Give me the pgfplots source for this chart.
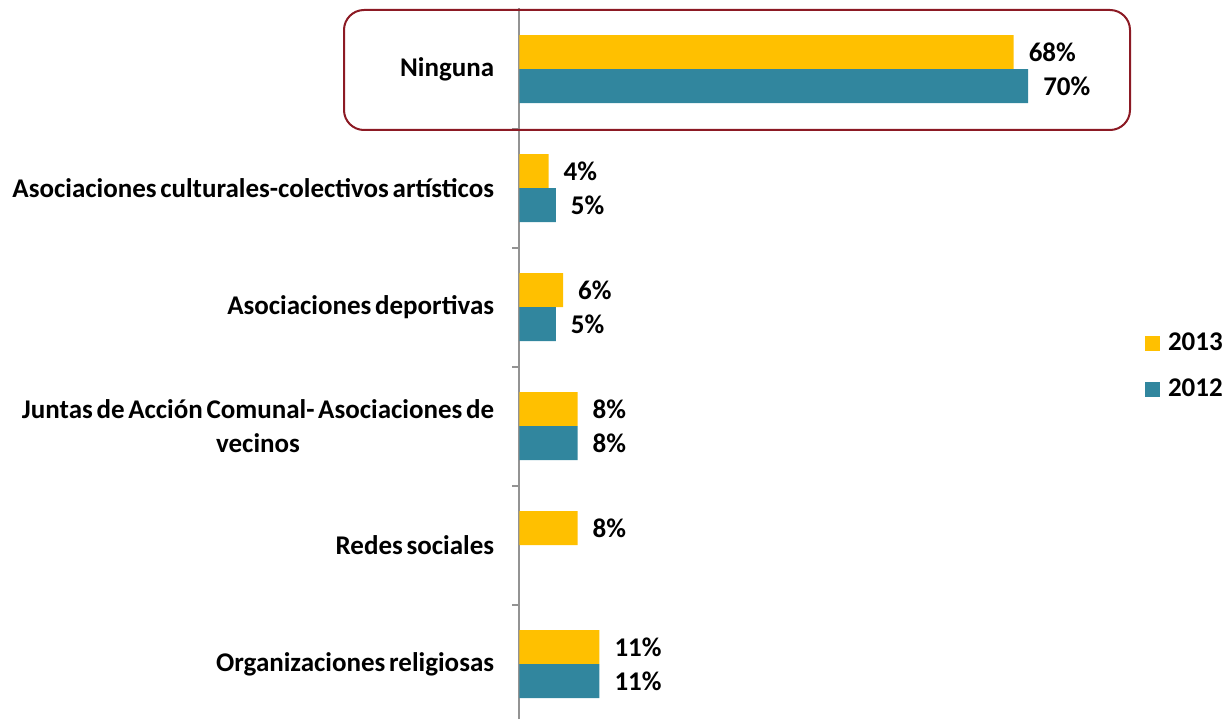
\documentclass[border=0pt]{standalone}
\usepackage{pgfplots}
\pgfplotsset{compat=1.18}
\usepackage{fontspec}
\setmainfont[WordSpace=0.6]{Carlito}
\definecolor{cy}{HTML}{FFC000}
\definecolor{ct}{HTML}{31869E}
\definecolor{cframe}{HTML}{8C1A24}
\newcommand{\lf}{\bfseries\fontsize{13.5}{17}\selectfont}
\begin{document}
\begin{tikzpicture}[font=\lf]
\path[use as bounding box] (0,0) rectangle (611.5pt,359.5pt);
\begin{axis}[
  at={(259.75pt,0pt)}, anchor=south west,
  scale only axis, width=305.25pt, height=355.5pt,
  xmin=0, xmax=84, ymin=-0.462, ymax=5.513,
  xbar, bar width=17pt,
  axis x line=none, axis y line*=left,
  y axis line style={draw=gray!85, line width=1pt},
  ytick={0,...,5}, major tick length=0pt,
  minor ytick={0.5,1.5,2.5,3.5,4.5}, minor tick length=3.5pt, tick align=outside,
  minor tick style={draw=gray!85, line width=1pt},
  yticklabels={Organizaciones religiosas, Redes sociales, {Juntas de Acción Comunal- Asociaciones de\\vecinos}, Asociaciones deportivas, Asociaciones culturales-colectivos artísticos, Ninguna},
  yticklabel style={align=center, inner sep=0pt, xshift=-12.5pt, font=\lf},
  /pgf/number format/assume math mode=true,
  nodes near coords={\pgfmathprintnumber{\pgfplotspointmeta}\%},
  nodes near coords style={anchor=west, xshift=4pt, black, font=\lf},
  clip=false,
  legend style={at={(1.024,0.4958)}, anchor=west, draw=none, fill=none, row sep=8.8pt, column sep=2pt, inner sep=0pt, font=\lf},
  legend cell align=left,
  legend image code/.code={\fill[#1, draw=none] (0pt,-3.75pt) rectangle (7.5pt,3.75pt);},
]
\addplot[fill=cy, draw=none, bar shift=8.5pt] coordinates {(11,0) (8,1) (8,2) (6,3) (4,4) (68,5)};
\addlegendentry{2013}
\addplot[fill=ct, draw=none, bar shift=-8.5pt] coordinates {(11,0) (8,2) (5,3) (5,4) (70,5)};
\addlegendentry{2012}
\end{axis}
\draw[cframe, line width=1pt, rounded corners=10pt] (172pt,294.5pt) rectangle (565pt,354.5pt);
\end{tikzpicture}
\end{document}
